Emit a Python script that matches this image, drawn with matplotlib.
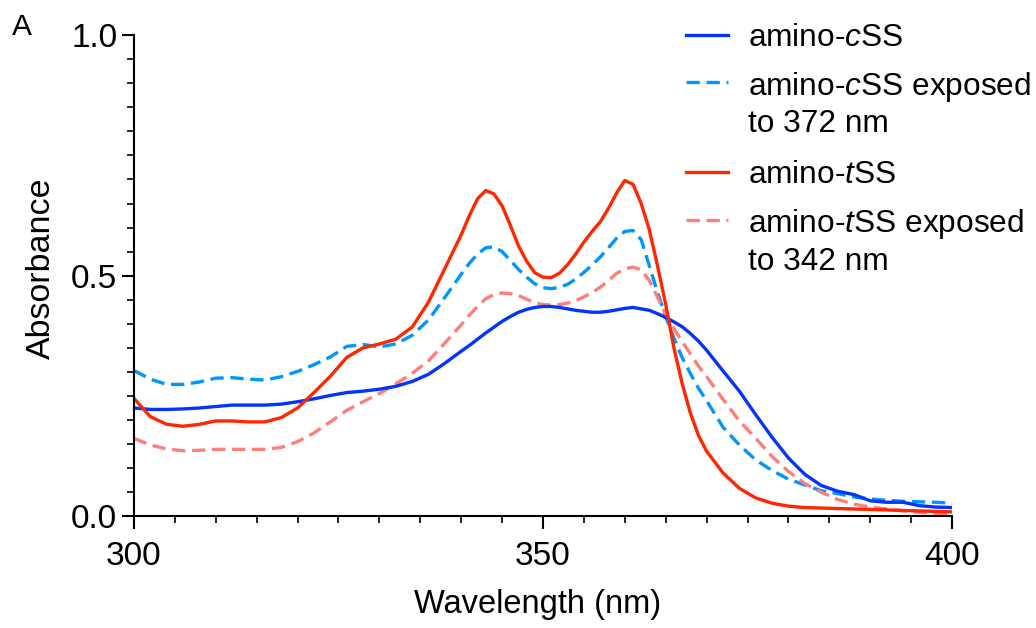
import numpy as np
import matplotlib
matplotlib.use("Agg")
import matplotlib.pyplot as plt
from matplotlib.lines import Line2D
from matplotlib.ticker import MultipleLocator, FormatStrFormatter

plt.rcParams['font.family'] = ['Liberation Sans', 'DejaVu Sans']
plt.rcParams['mathtext.fontset'] = 'custom'
plt.rcParams['mathtext.rm'] = 'Liberation Sans'
plt.rcParams['mathtext.it'] = 'Liberation Sans:italic'

# wavelength grid (nm)
wl = [300, 302, 304, 306, 308, 310, 312, 314, 316, 318, 320, 322, 324, 326, 328,
      330, 332, 334, 336, 338, 340, 341, 342, 343, 344, 345, 346, 347, 348, 349,
      350, 351, 352, 353, 354, 355, 356, 357, 358, 359, 360, 361, 362, 363, 364,
      365, 366, 367, 368, 369, 370, 372, 374, 376, 378, 380, 382, 384, 386, 388,
      390, 392, 394, 396, 398, 400]

# amino-cSS
css = [0.225, 0.222, 0.222, 0.223, 0.225, 0.228, 0.231, 0.231, 0.231, 0.233, 0.238,
       0.244, 0.251, 0.257, 0.260, 0.264, 0.270, 0.280, 0.295, 0.318, 0.343, 0.355,
       0.368, 0.381, 0.393, 0.405, 0.415, 0.424, 0.430, 0.434, 0.436, 0.436, 0.434,
       0.431, 0.428, 0.426, 0.424, 0.424, 0.426, 0.429, 0.432, 0.434, 0.431, 0.428,
       0.421, 0.413, 0.404, 0.394, 0.380, 0.364, 0.345, 0.302, 0.260, 0.211, 0.164,
       0.121, 0.087, 0.064, 0.052, 0.045, 0.032, 0.029, 0.029, 0.022, 0.019, 0.018]

# amino-cSS exposed to 372 nm
css_exp = [0.303, 0.285, 0.274, 0.274, 0.279, 0.287, 0.288, 0.285, 0.283, 0.290, 0.301,
           0.315, 0.331, 0.353, 0.357, 0.352, 0.358, 0.376, 0.408, 0.455, 0.503, 0.526,
           0.545, 0.558, 0.560, 0.550, 0.532, 0.513, 0.497, 0.483, 0.475, 0.473, 0.476,
           0.482, 0.493, 0.507, 0.522, 0.539, 0.558, 0.578, 0.592, 0.594, 0.575, 0.520,
           0.465, 0.415, 0.370, 0.330, 0.297, 0.266, 0.240, 0.185, 0.148, 0.117, 0.095,
           0.077, 0.065, 0.053, 0.047, 0.040, 0.036, 0.033, 0.031, 0.030, 0.029, 0.027]

# amino-tSS
tss = [0.245, 0.207, 0.191, 0.187, 0.191, 0.198, 0.198, 0.196, 0.196, 0.205, 0.225,
       0.257, 0.291, 0.330, 0.350, 0.358, 0.368, 0.393, 0.445, 0.515, 0.585, 0.625,
       0.660, 0.677, 0.670, 0.645, 0.605, 0.562, 0.530, 0.506, 0.497, 0.496, 0.505,
       0.523, 0.545, 0.570, 0.592, 0.612, 0.640, 0.672, 0.698, 0.690, 0.650, 0.595,
       0.520, 0.440, 0.350, 0.276, 0.215, 0.168, 0.135, 0.090, 0.058, 0.038, 0.027,
       0.021, 0.018, 0.017, 0.016, 0.015, 0.014, 0.013, 0.012, 0.011, 0.010, 0.009]

# amino-tSS exposed to 342 nm
tss_exp = [0.162, 0.148, 0.140, 0.136, 0.137, 0.139, 0.139, 0.139, 0.139, 0.143, 0.155,
           0.173, 0.196, 0.220, 0.238, 0.255, 0.275, 0.297, 0.323, 0.360, 0.398, 0.418,
           0.436, 0.452, 0.461, 0.464, 0.463, 0.459, 0.451, 0.444, 0.440, 0.439, 0.440,
           0.443, 0.448, 0.456, 0.465, 0.476, 0.490, 0.505, 0.514, 0.518, 0.512, 0.490,
           0.455, 0.420, 0.390, 0.363, 0.338, 0.312, 0.290, 0.243, 0.198, 0.162, 0.124,
           0.093, 0.068, 0.050, 0.035, 0.025, 0.019, 0.015, 0.011, 0.008, 0.006, 0.006]

labels = ['amino-$\\it{c}$SS', 'amino-$\\it{c}$SS exposed\nto 372 nm',
          'amino-$\\it{t}$SS', 'amino-$\\it{t}$SS exposed\nto 342 nm']
colors = ['#0433FF', '#0096FF', '#FF2600', '#FF7E79']
styles = ['-', '--', '-', '--']
series = [css, css_exp, tss, tss_exp]

fig = plt.figure(figsize=(10.36, 6.28), dpi=100)
ax = fig.add_axes([0.1293, 0.178, 0.7897, 0.766])

# light dashed lines first, solid ones on top
order = [1, 3, 0, 2]
for i in order:
    ln, = ax.plot(wl, series[i], color=colors[i], lw=2.4, ls=styles[i])
    if styles[i] == '--':
        ln.set_dashes((4, 2))

ax.set_xlim(300, 400)
ax.set_ylim(0, 1.0)
ax.xaxis.set_major_locator(MultipleLocator(50))
ax.xaxis.set_minor_locator(MultipleLocator(5))
ax.yaxis.set_major_locator(MultipleLocator(0.5))
ax.yaxis.set_minor_locator(MultipleLocator(0.05))
ax.yaxis.set_major_formatter(FormatStrFormatter('%.1f'))

for s in ['top', 'right']:
    ax.spines[s].set_visible(False)
for s in ['left', 'bottom']:
    ax.spines[s].set_linewidth(1.5)
ax.tick_params(which='major', length=9, width=1.5, labelsize=24)
ax.tick_params(axis='x', which='major', pad=9)
ax.tick_params(axis='y', which='major', pad=3)
ax.tick_params(which='minor', length=5, width=1.2)

ax.set_xlabel('Wavelength (nm)', fontsize=23.5, labelpad=12)
ax.set_ylabel('Absorbance', fontsize=24.5, labelpad=10)
ax.xaxis.label.set_x(0.493)
ax.yaxis.label.set_y(0.516)

fig.text(12 / 1036.0, 1 - 13 / 628.0, 'A', fontsize=21.5, va='top')

# legend by hand: handle level with the first text line
ys = [35, 82, 172, 220]
for i in range(4):
    yf = 1 - ys[i] / 628.0
    l = Line2D([686 / 1036.0, 728 / 1036.0], [yf, yf], transform=fig.transFigure,
               color=colors[i], lw=2.4, ls=styles[i])
    if styles[i] == '--':
        l.set_dashes((4, 2))
    fig.add_artist(l)
    for k, part in enumerate(labels[i].split('\n')):
        fig.text(748 / 1036.0, 1 - (ys[i] + 38 * k) / 628.0, part, fontsize=22.8,
                 va='center_baseline')

fig.savefig('out.png', dpi=100)
